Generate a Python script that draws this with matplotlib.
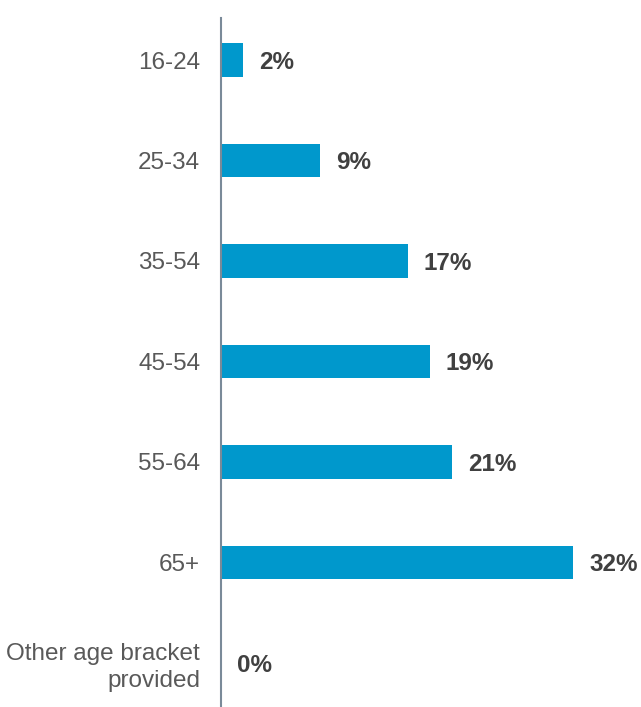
import matplotlib.pyplot as plt
from matplotlib import rcParams

# Age bracket breakdown
age_groups = ['16-24', '25-34', '35-54', '45-54', '55-64', '65+',
              'Other age bracket\nprovided']
shares = [2, 9, 17, 19, 21, 32, 0]

rcParams['font.family'] = ['Liberation Sans', 'DejaVu Sans']

bar_color = '#0098cc'
label_color = '#595959'
value_color = '#404040'
axis_color = '#7a8a99'

fig = plt.figure(figsize=(6.41, 7.07), dpi=100)
ax = fig.add_axes([221 / 641, 0, 420 / 641, 689 / 707])

y_pos = list(range(len(age_groups)))
ax.barh(y_pos, shares, height=0.33, color=bar_color)

for y, val in zip(y_pos, shares):
    ax.annotate(f'{val}%', (val, y), xytext=(11.5, -1.5), textcoords='offset points',
                ha='left', va='center', fontsize=17.5, fontweight='bold',
                color=value_color)

ax.set_xlim(0, 420 / 11)
ax.set_ylim(6.438, -0.418)

ax.set_yticks(y_pos)
ax.set_yticklabels(age_groups, fontsize=17.5, color=label_color,
                   linespacing=1.25)
ax.tick_params(axis='y', length=0, pad=15)
ax.set_xticks([])

for side in ['top', 'right', 'bottom']:
    ax.spines[side].set_visible(False)
ax.spines['left'].set_color(axis_color)
ax.spines['left'].set_linewidth(1.5)

fig.savefig('out.png', dpi=100)
